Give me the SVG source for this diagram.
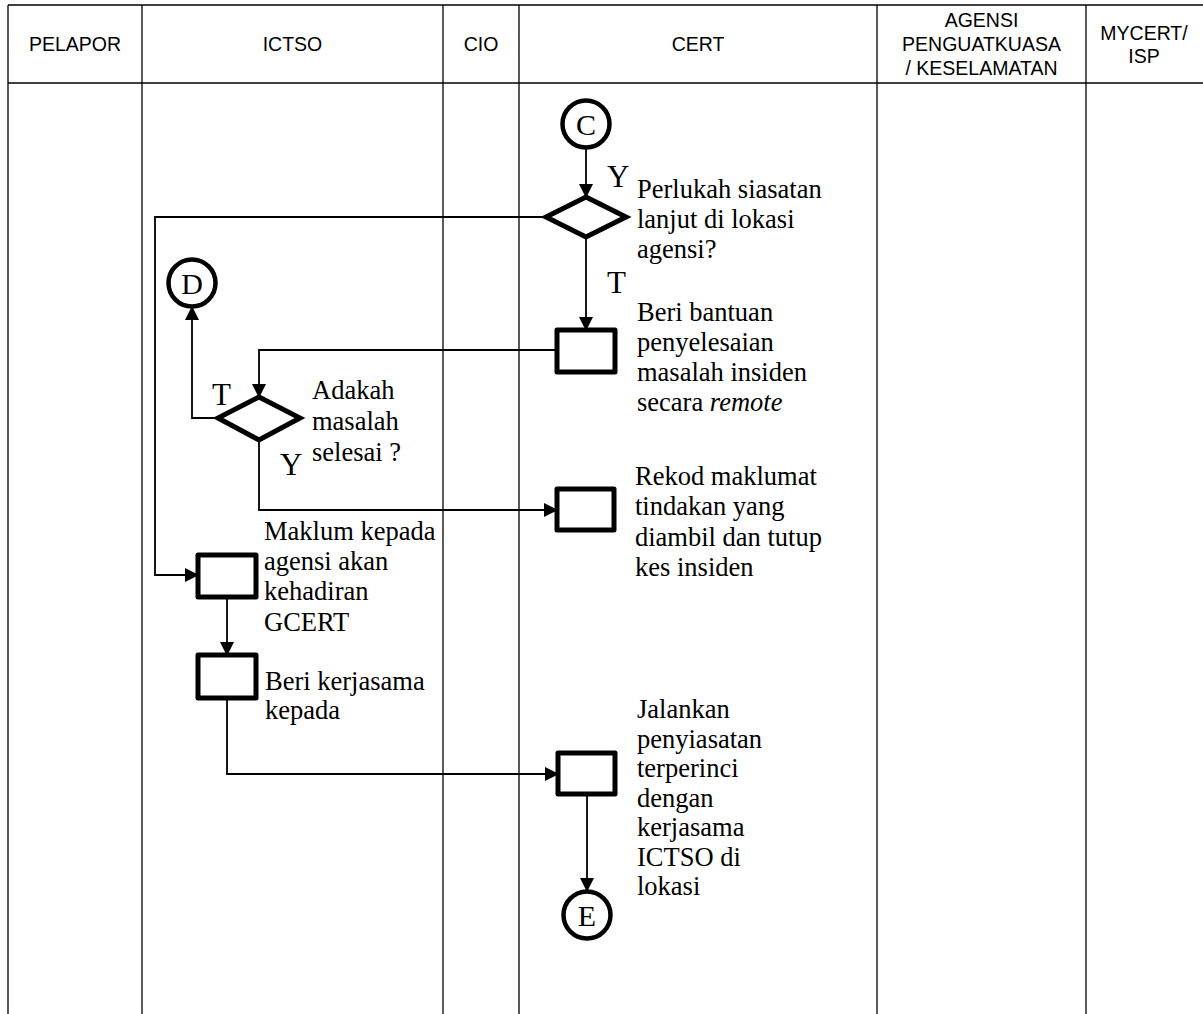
<svg xmlns="http://www.w3.org/2000/svg" width="1203" height="1014" viewBox="0 0 1203 1014">
<defs>
<marker id="arr" viewBox="0 0 14 14" refX="13" refY="7" markerWidth="14" markerHeight="14" markerUnits="userSpaceOnUse" orient="auto">
<path d="M0,0 L14,7 L0,14 Z" fill="#000"/>
</marker>
<style>
.grid{stroke:#000;stroke-width:1.3;fill:none}
.hd{font-family:"Liberation Sans",Arial,sans-serif;font-size:19.5px;fill:#000;text-anchor:middle}
.tx{font-family:"Liberation Serif","Times New Roman",serif;font-size:26.5px;fill:#000}
.lb{font-family:"Liberation Serif","Times New Roman",serif;font-size:31px;fill:#000}
.cl{font-family:"Liberation Serif","Times New Roman",serif;font-size:30px;fill:#000;text-anchor:middle}
.box{fill:#fff;stroke:#000;stroke-width:5;stroke-linejoin:round}
.dia{fill:#fff;stroke:#000;stroke-width:5;stroke-linejoin:miter}
.cir{fill:#fff;stroke:#000;stroke-width:4.5}
.con{fill:none;stroke:#000;stroke-width:1.8;marker-end:url(#arr)}
</style>
</defs>
<rect width="1203" height="1014" fill="#fff"/>
<g id="table">
<line class="grid" x1="8" y1="5" x2="1203" y2="5"/>
<line class="grid" x1="8" y1="83" x2="1203" y2="83"/>
<line class="grid" x1="8" y1="5" x2="8" y2="1014"/>
<line class="grid" x1="142" y1="5" x2="142" y2="1014"/>
<line class="grid" x1="443" y1="5" x2="443" y2="1014"/>
<line class="grid" x1="519" y1="5" x2="519" y2="1014"/>
<line class="grid" x1="877" y1="5" x2="877" y2="1014"/>
<line class="grid" x1="1086" y1="5" x2="1086" y2="1014"/>
<text class="hd" x="75" y="51">PELAPOR</text>
<text class="hd" x="292.5" y="51">ICTSO</text>
<text class="hd" x="481" y="51">CIO</text>
<text class="hd" x="698" y="51">CERT</text>
<text class="hd" x="981.5" y="27">AGENSI</text>
<text class="hd" x="981.5" y="51">PENGUATKUASA</text>
<text class="hd" x="981.5" y="75">/ KESELAMATAN</text>
<text class="hd" x="1144" y="40">MYCERT/</text>
<text class="hd" x="1144" y="63">ISP</text>
</g>
<g id="connectors">
<path class="con" d="M586,148 L586,197"/>
<path class="con" d="M586,237 L586,330"/>
<path class="con" d="M546,217 L155,217 L155,575 L198,575"/>
<path class="con" d="M557,350 L259,350 L259,397"/>
<path class="con" d="M218,418 L192,418 L192,307"/>
<path class="con" d="M259,440 L259,510 L557,510"/>
<path class="con" d="M227,597 L227,655"/>
<path class="con" d="M227,698 L227,774 L558,774"/>
<path class="con" d="M587,794 L587,891"/>
<text class="lb" x="607" y="187">Y</text>
<text class="lb" x="607" y="293">T</text>
<text class="lb" x="212" y="405">T</text>
<text class="lb" x="280" y="475">Y</text>
</g>
<g id="nodeC">
<circle class="cir" cx="586" cy="124" r="23.5"/>
<text class="cl" x="586" y="135">C</text>
</g>
<g id="decision1">
<polygon class="dia" points="586,197 626,217 586,237 546,217"/>
<text class="tx" x="637" y="198">Perlukah siasatan</text>
<text class="tx" x="637" y="228">lanjut di lokasi</text>
<text class="tx" x="637" y="258">agensi?</text>
</g>
<g id="process1">
<rect class="box" x="557" y="330" width="58" height="42"/>
<text class="tx" x="637" y="321">Beri bantuan</text>
<text class="tx" x="637" y="351">penyelesaian</text>
<text class="tx" x="637" y="381">masalah insiden</text>
<text class="tx" x="637" y="411">secara <tspan font-style="italic">remote</tspan></text>
</g>
<g id="nodeD">
<circle class="cir" cx="192" cy="283" r="23.5"/>
<text class="cl" x="192" y="294">D</text>
</g>
<g id="decision2">
<polygon class="dia" points="259,397 300,418 259,440 218,418"/>
<text class="tx" x="312" y="399">Adakah</text>
<text class="tx" x="312" y="430">masalah</text>
<text class="tx" x="312" y="461">selesai ?</text>
</g>
<g id="process2">
<rect class="box" x="557" y="489" width="57" height="41"/>
<text class="tx" x="635" y="485">Rekod maklumat</text>
<text class="tx" x="635" y="515">tindakan yang</text>
<text class="tx" x="635" y="546">diambil dan tutup</text>
<text class="tx" x="635" y="576">kes insiden</text>
</g>
<g id="process3">
<rect class="box" x="198" y="555" width="58" height="42"/>
<text class="tx" x="264" y="540">Maklum kepada</text>
<text class="tx" x="264" y="570">agensi akan</text>
<text class="tx" x="264" y="600">kehadiran</text>
<text class="tx" x="264" y="631">GCERT</text>
</g>
<g id="process4">
<rect class="box" x="198" y="655" width="58" height="43"/>
<text class="tx" x="265" y="690">Beri kerjasama</text>
<text class="tx" x="265" y="719">kepada</text>
</g>
<g id="process5">
<rect class="box" x="558" y="753" width="57" height="41"/>
<text class="tx" x="637" y="718">Jalankan</text>
<text class="tx" x="637" y="748">penyiasatan</text>
<text class="tx" x="637" y="777">terperinci</text>
<text class="tx" x="637" y="807">dengan</text>
<text class="tx" x="637" y="836">kerjasama</text>
<text class="tx" x="637" y="866">ICTSO di</text>
<text class="tx" x="637" y="895">lokasi</text>
</g>
<g id="nodeE">
<circle class="cir" cx="587" cy="915" r="23.5"/>
<text class="cl" x="587" y="926">E</text>
</g>
</svg>
